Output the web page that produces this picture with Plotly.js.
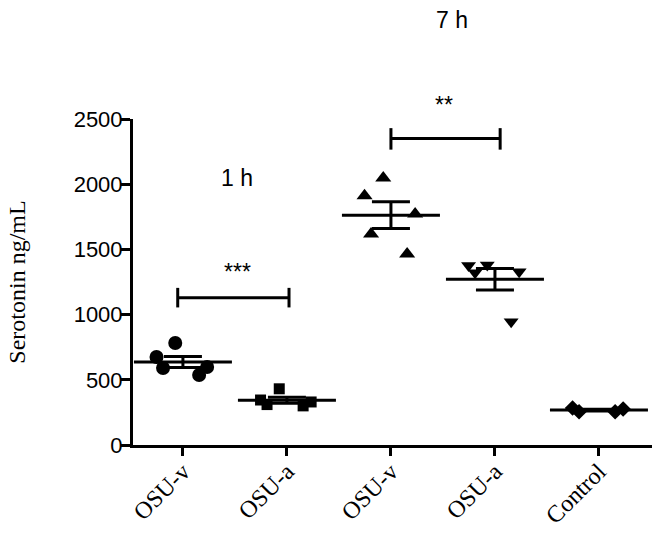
<!DOCTYPE html>
<html>
<head>
<meta charset="utf-8">
<script src="https://cdn.plot.ly/plotly-3.0.1.min.js"></script>
<style>
  html, body { margin: 0; padding: 0; background: #fff; }
  #chart { width: 652px; height: 533px; }
</style>
</head>
<body>
<div id="chart"></div>
<script>
// Serotonin ng/mL
const groupLabels = ['OSU-v', 'OSU-a', 'OSU-v', 'OSU-a', 'Control'];
const osuV1h = [782, 675, 598, 537, 590];
const osuA1h = [431, 330, 300, 310, 345];
const osuV7h = [2048, 1912, 1771, 1618, 1465];
const osuA7h = [1377, 1329, 1321, 1380, 946];
const control = [276, 255, 255, 284];
const groups = [osuV1h, osuA1h, osuV7h, osuA7h, control];
const symbols = ['circle', 'square', 'triangle-up', 'triangle-down', 'diamond'];
const markerSizes = [14, 11, 14, 13, 12];

const SERIF = '"Liberation Serif", "Times New Roman", serif';
const SANS = '"Liberation Sans", Arial, sans-serif';

function mean(a) { return a.reduce((s, v) => s + v, 0) / a.length; }
function sem(a) {
    const m = mean(a);
    const sd = Math.sqrt(a.reduce((s, v) => s + (v - m) * (v - m), 0) / (a.length - 1));
    return sd / Math.sqrt(a.length);
}

const idx = groups.map((g, i) => i);

// scattered points per group (box traces with the box hidden)
const pointTraces = groups.map((g, i) => ({
    type: 'box',
    y: g,
    x0: i,
    width: 0.6,
    boxpoints: 'all',
    jitter: 1,
    pointpos: 0,
    fillcolor: 'rgba(0,0,0,0)',
    line: { width: 0, color: 'rgba(0,0,0,0)' },
    marker: { symbol: symbols[i], size: markerSizes[i], color: '#000' },
    hoveron: 'points',
    showlegend: false
}));

// mean +/- SEM
const meanTrace = {
    type: 'scatter',
    mode: 'markers',
    x: idx,
    y: groups.map(mean),
    marker: { symbol: 'line-ew-open', size: 70, color: '#000', line: { width: 3, color: '#000' } },
    error_y: { type: 'data', array: groups.map(sem), visible: true, color: '#000', thickness: 3, width: 19 },
    showlegend: false,
    cliponaxis: false
};

const black = { color: '#000', width: 3 };
const shapes = [
    // *** bracket, 1 h
    { type: 'line', xref: 'x', yref: 'y', x0: -0.05, x1: 1.02, y0: 1130, y1: 1130, line: black },
    { type: 'line', xref: 'x', yref: 'y', x0: -0.05, x1: -0.05, y0: 1055, y1: 1205, line: black },
    { type: 'line', xref: 'x', yref: 'y', x0: 1.02, x1: 1.02, y0: 1055, y1: 1205, line: black },
    // ** bracket, 7 h
    { type: 'line', xref: 'x', yref: 'y', x0: 2, x1: 3.05, y0: 2350, y1: 2350, line: black },
    { type: 'line', xref: 'x', yref: 'y', x0: 2, x1: 2, y0: 2265, y1: 2430, line: black },
    { type: 'line', xref: 'x', yref: 'y', x0: 3.05, x1: 3.05, y0: 2265, y1: 2430, line: black }
];

const annFont = { family: SANS, size: 23, color: '#000' };
const annotations = [
    { text: '***', x: 0.52, y: 1330, xref: 'x', yref: 'y', showarrow: false, font: annFont },
    { text: '1 h', x: 0.52, y: 2050, xref: 'x', yref: 'y', showarrow: false, font: annFont },
    { text: '**', x: 2.51, y: 1.09, xref: 'x', yref: 'paper', showarrow: false, font: annFont },
    { text: '7 h', x: 2.59, y: 1.35, xref: 'x', yref: 'paper', showarrow: false, font: annFont }
];

const layout = {
    width: 652,
    height: 533,
    margin: { l: 133, r: 0, t: 119, b: 88 },
    paper_bgcolor: '#fff',
    plot_bgcolor: '#fff',
    showlegend: false,
    boxmode: 'overlay',
    xaxis: {
        range: [-0.48, 4.51],
        tickvals: idx,
        ticktext: groupLabels,
        tickangle: -45,
        tickfont: { family: SERIF, size: 24, color: '#000' },
        ticks: 'outside',
        ticklen: 8,
        tickwidth: 3,
        tickcolor: '#000',
        ticklabelstandoff: -8,
        showline: true,
        linewidth: 3,
        linecolor: '#000',
        showgrid: false,
        zeroline: false
    },
    yaxis: {
        range: [0, 2500],
        tickvals: [0, 500, 1000, 1500, 2000, 2500],
        tickfont: { family: SANS, size: 22, color: '#000' },
        ticks: 'outside',
        ticklen: 9,
        tickwidth: 3,
        tickcolor: '#000',
        ticklabelstandoff: -6,
        showline: true,
        linewidth: 3,
        linecolor: '#000',
        showgrid: false,
        zeroline: false,
        title: { text: 'Serotonin ng/mL', font: { family: SERIF, size: 24, color: '#000' }, standoff: 42 }
    },
    shapes: shapes,
    annotations: annotations
};

Plotly.newPlot('chart', pointTraces.concat([meanTrace]), layout, { displayModeBar: false, staticPlot: true });
</script>
</body>
</html>
